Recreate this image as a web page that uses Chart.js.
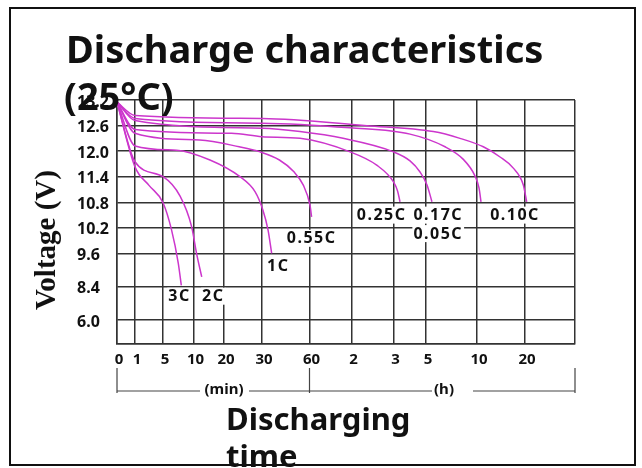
<!DOCTYPE html>
<html>
<head>
<meta charset="utf-8">
<title>Discharge characteristics</title>
<script src="https://cdn.jsdelivr.net/npm/chart.js@4"></script>
<style>
  html, body { margin: 0; padding: 0; background: #fff; }
  #wrap { width: 642px; height: 468px; }
</style>
</head>
<body>
<div id="wrap"><canvas id="chart" width="642" height="468"></canvas></div>
<script>
// --- Axis ticks ---
// time ticks in minutes, labels switch to hours after 60
const timeTicks = [0, 1, 5, 10, 20, 30, 60, 120, 180, 300, 600, 1200, 2400];
const timeTickLabels = ['0', '1', '5', '10', '20', '30', '60', '2', '3', '5', '10', '20', ''];
const voltTicks = [13.2, 12.6, 12.0, 11.4, 10.8, 10.2, 9.6, 8.4, 6.0, 4.8];
const voltTickLabels = ['13.2', '12.6', '12.0', '11.4', '10.8', '10.2', '9.6', '8.4', '6.0', ''];

// grid spacing of the (non uniform) axes, in axis units
const timeGrid = [0, 18, 46, 76.5, 107, 145, 192.5, 234.5, 276.5, 309, 360, 408, 458];
const voltGrid = [0, 25.7, 51, 76.7, 102.7, 127.7, 153.3, 186.7, 220, 244];

// --- Series (time in min, voltage in V) ---
const rates = ['3C', '2C', '1C', '0.55C', '0.25C', '0.17C', '0.10C', '0.05C'];
const time3C = [0, 1, 3, 5, 6.4, 7.5, 8];
const volt3C = [13.15, 11.63, 11.2, 10.8, 10.15, 9.25, 8.45];
const time2C = [0, 1, 5, 7.8, 9.7, 11, 12.7];
const volt2C = [13.15, 11.75, 11.4, 10.95, 10.22, 9.6, 8.75];
const time1C = [0, 1, 7.2, 15.4, 24.2, 28.2, 30.6, 33.8, 36.1];
const volt1C = [13.15, 12.12, 12.02, 11.79, 11.4, 11.05, 10.62, 10.15, 9.6];
const time055C = [0, 1, 12, 24, 29.5, 41, 50, 56, 60.7, 63];
const volt055C = [13.15, 12.42, 12.26, 12.1, 11.98, 11.79, 11.52, 11.21, 10.74, 10.46];
const time025C = [0, 1, 22, 30, 54, 118, 156, 180, 195, 204];
const volt025C = [13.15, 12.51, 12.42, 12.34, 12.3, 11.98, 11.67, 11.28, 11.07, 10.82];
const time017C = [0, 1, 30, 54, 108, 180, 241, 278, 306, 335];
const volt017C = [13.15, 12.72, 12.54, 12.46, 12.3, 11.98, 11.77, 11.51, 11.21, 10.82];
const time010C = [0, 1, 30, 118, 241, 412, 518, 588, 625, 650];
const volt010C = [13.15, 12.77, 12.66, 12.55, 12.4, 12.1, 11.81, 11.42, 11.14, 10.82];
const time005C = [0, 1, 30, 142, 343, 500, 679, 888, 1054, 1179, 1241];
const volt005C = [13.15, 12.84, 12.77, 12.6, 12.46, 12.3, 12.1, 11.86, 11.6, 11.21, 10.82];

const seriesTimes = [time3C, time2C, time1C, time055C, time025C, time017C, time010C, time005C];
const seriesVolts = [volt3C, volt2C, volt1C, volt055C, volt025C, volt017C, volt010C, volt005C];

// where the rate labels sit (time, voltage)
const labelTimes = [7.7, 16.5, 40.3, 63.1, 163, 372, 372, 1075];
const labelVolts = [7.68, 7.68, 9.12, 9.94, 10.49, 10.49, 10.05, 10.49];
const labelTexts = ['3C', '2C', '1C', '0.55C', '0.25C', '0.17C', '0.05C', '0.10C'];

// piecewise mapping between tick values and grid units
function interp(v, from, to) {
    for (let i = 0; i < from.length - 1; i++) {
        const a = from[i], b = from[i + 1];
        if ((v - a) * (v - b) <= 0) {
            return to[i] + (v - a) / (b - a) * (to[i + 1] - to[i]);
        }
    }
    return to[to.length - 1];
}
const tx = t => interp(t, timeTicks, timeGrid);
const vy = v => interp(v, voltTicks, voltGrid);

const lineColor = '#cc36cc';
const datasets = rates.map((r, i) => ({
    label: r,
    data: seriesTimes[i].map((t, j) => ({ x: tx(t), y: vy(seriesVolts[i][j]) })),
    borderColor: lineColor,
    borderWidth: 1.5,
    pointRadius: 0,
    fill: false,
    cubicInterpolationMode: 'monotone'
}));

const decorations = {
    id: 'decorations',
    beforeDraw(chart) {
        const ctx = chart.ctx;
        ctx.save();
        ctx.fillStyle = '#fff';
        ctx.fillRect(0, 0, chart.width, chart.height);
        ctx.restore();
    },
    afterDraw(chart) {
        const ctx = chart.ctx;
        const xs = chart.scales.x, ys = chart.scales.y;
        ctx.save();
        ctx.fillStyle = '#111';
        ctx.textBaseline = 'alphabetic';

        // rate labels with white boxes
        ctx.font = 'bold 16px "Noto Sans"';
        ctx.letterSpacing = '1.5px';
        ctx.textAlign = 'center';
        labelTexts.forEach((txt, i) => {
            const px = xs.getPixelForValue(tx(labelTimes[i]));
            const py = ys.getPixelForValue(vy(labelVolts[i]));
            const w = ctx.measureText(txt).width;
            ctx.fillStyle = '#fff';
            ctx.fillRect(px - w / 2 - 1, py - 9, w + 2, 17);
            ctx.fillStyle = '#111';
            ctx.textBaseline = 'middle';
            ctx.fillText(txt, px, py);
        });
        ctx.letterSpacing = '0px';
        ctx.textBaseline = 'alphabetic';

        // title
        ctx.textAlign = 'left';
        ctx.font = 'bold 38px "Noto Sans"';
        ctx.fillText('Discharge characteristics', 66, 63);
        ctx.fillText('(25°C)', 64, 110);

        // y axis title
        ctx.save();
        ctx.translate(55, 240);
        ctx.rotate(-Math.PI / 2);
        ctx.font = 'bold 29px "Liberation Serif"';
        ctx.textAlign = 'center';
        ctx.textBaseline = 'alphabetic';
        ctx.fillText('Voltage (V)', 0, 0);
        ctx.restore();

        // min / h bracket
        const x0 = xs.getPixelForValue(tx(0));
        const x60 = xs.getPixelForValue(tx(60));
        const xEnd = xs.getPixelForValue(tx(2400));
        ctx.strokeStyle = '#444';
        ctx.lineWidth = 1.2;
        ctx.beginPath();
        [x0, x60, xEnd].forEach(x => { ctx.moveTo(x, 368); ctx.lineTo(x, 393); });
        ctx.moveTo(x0, 391); ctx.lineTo(200, 391);
        ctx.moveTo(249, 391); ctx.lineTo(432, 391);
        ctx.moveTo(473, 391); ctx.lineTo(xEnd, 391);
        ctx.stroke();
        ctx.font = 'bold 15px "Noto Sans"';
        ctx.textAlign = 'center';
        ctx.textBaseline = 'middle';
        ctx.fillText('(min)', 224, 390);
        ctx.fillText('(h)', 444, 390);

        // x axis title
        ctx.textAlign = 'left';
        ctx.textBaseline = 'alphabetic';
        ctx.font = 'bold 31px "Noto Sans"';
        ctx.fillText('Discharging', 226, 430);
        ctx.fillText('time', 226, 467);

        // frame
        ctx.strokeStyle = '#111';
        ctx.lineWidth = 2;
        ctx.strokeRect(10, 8, 625, 457);
        ctx.restore();
    }
};

const gridColor = '#333';
new Chart(document.getElementById('chart'), {
    type: 'line',
    data: { datasets },
    options: {
        responsive: false,
        animation: false,
        layout: { padding: { left: 77, right: 67, top: 100, bottom: 0 } },
        plugins: { legend: { display: false }, tooltip: { enabled: false }, title: { display: false } },
        scales: {
            x: {
                type: 'linear',
                min: 0,
                max: timeGrid[timeGrid.length - 1],
                afterBuildTicks: s => { s.ticks = timeGrid.map(v => ({ value: v })); },
                afterFit: s => { s.height = 124; },
                grid: { color: gridColor, lineWidth: 1.5, drawTicks: false },
                border: { color: gridColor, width: 1.5 },
                ticks: {
                    autoSkip: false,
                    maxRotation: 0,
                    padding: 7,
                    labelOffset: 2,
                    color: '#111',
                    font: { family: 'Noto Sans', size: 15, weight: 'bold' },
                    callback: (v, i) => timeTickLabels[i]
                }
            },
            y: {
                type: 'linear',
                reverse: true,
                min: 0,
                max: voltGrid[voltGrid.length - 1],
                afterBuildTicks: s => { s.ticks = voltGrid.map(v => ({ value: v })); },
                afterFit: s => { s.width = 40; },
                grid: { color: gridColor, lineWidth: 1.5, drawTicks: false },
                border: { color: gridColor, width: 1.5 },
                ticks: {
                    autoSkip: false,
                    crossAlign: 'far',
                    padding: 4,
                    labelOffset: 2,
                    color: '#111',
                    font: { family: 'Noto Sans', size: 16, weight: 'bold' },
                    callback: (v, i) => voltTickLabels[i]
                }
            }
        }
    },
    plugins: [decorations]
});
</script>
</body>
</html>
